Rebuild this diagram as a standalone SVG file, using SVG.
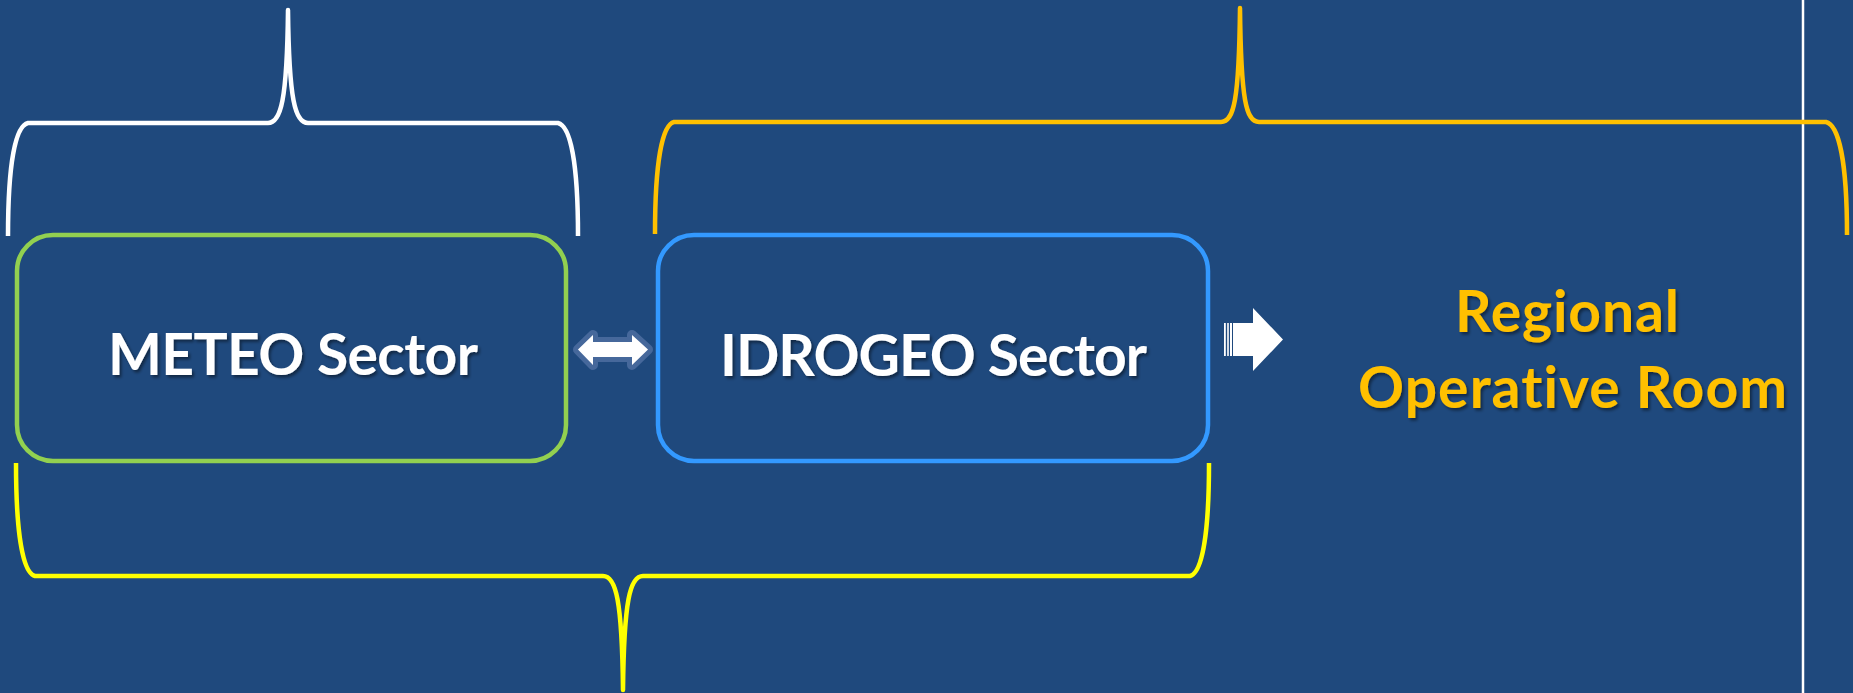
<svg xmlns="http://www.w3.org/2000/svg" width="1853" height="693" viewBox="0 0 1853 693">
  <defs>
    <filter id="shadow" x="-10%" y="-30%" width="120%" height="160%">
      <feDropShadow dx="2" dy="2.5" stdDeviation="1.5" flood-color="#000" flood-opacity="0.45"/>
    </filter>
  </defs>
  <style>
    .brace { fill: none; stroke-width: 4.5; stroke-linecap: butt; stroke-linejoin: round; }
    .box { fill: #1F497D; stroke-width: 4.5; }
    .label { font-family: Lato, "Liberation Sans", sans-serif; font-weight: bold; font-size: 57px; text-anchor: middle; font-variant-ligatures: none; filter: url(#shadow); }
    .white { fill: #FFFFFF; }
    .gold { fill: #FFC000; }
  </style>
  <rect x="0" y="0" width="1853" height="693" fill="#1F497D"/>
  <line x1="1803" y1="0" x2="1803" y2="693" stroke="#FFFFFF" stroke-width="2.5"/>

  <g id="braces">
    <path class="brace" stroke="#FFFFFF" d="M8,236 C8,165 15,126 28,123 L268,123 C281,123 287,100 288,10 C289,100 295,123 308,123 L558,123 C571,126 578,165 578,236"/>
    <path class="brace" stroke="#FFC000" d="M655,234 C655,163 662,125 674,122 L1221,122 C1234,122 1239,100 1240,8 C1241,100 1246,122 1259,122 L1826,122 C1839,125 1847,163 1847,235"/>
    <path class="brace" stroke="#FFFF00" d="M16,463 C16,535 23,573 35,576 L603,576 C616,576 622,600 623,690 C624,600 630,576 643,576 L1190,576 C1202,573 1209,535 1209,463"/>
  </g>

  <g id="meteo">
    <rect class="box" x="17" y="235" width="549" height="226" rx="36" ry="36" stroke="#92D050"/>
    <text class="label white" x="293" y="375" textLength="370">METEO Sector</text>
  </g>

  <g id="idrogeo">
    <rect class="box" x="658" y="235" width="550" height="226" rx="36" ry="36" stroke="#3399FF"/>
    <text class="label white" x="933.5" y="376" textLength="427">IDROGEO Sector</text>
  </g>

  <g id="regional">
    <text class="label gold" x="1567" y="332" textLength="224">Regional</text>
    <text class="label gold" x="1572.5" y="408" textLength="429">Operative Room</text>
  </g>

  <g id="connectors">
    <path d="M578,349.5 L593,335 L593,342 L632,342 L632,335 L648,349.5 L632,365 L632,357 L593,357 L593,365 Z" fill="#FFFFFF" stroke="#4A6C9E" stroke-opacity="0.9" stroke-width="10" stroke-linejoin="round"/>
    <path d="M578,349.5 L593,335 L593,342 L632,342 L632,335 L648,349.5 L632,365 L632,357 L593,357 L593,365 Z" fill="#FFFFFF"/>
    <g fill="#FFFFFF">
      <rect x="1224" y="323" width="1.8" height="33"/>
      <rect x="1227.2" y="323" width="1.6" height="33"/>
      <rect x="1230" y="323" width="2" height="33"/>
      <path d="M1233,323 L1253,323 L1253,308 L1283,339.5 L1253,371 L1253,356 L1233,356 Z"/>
    </g>
  </g>
</svg>
